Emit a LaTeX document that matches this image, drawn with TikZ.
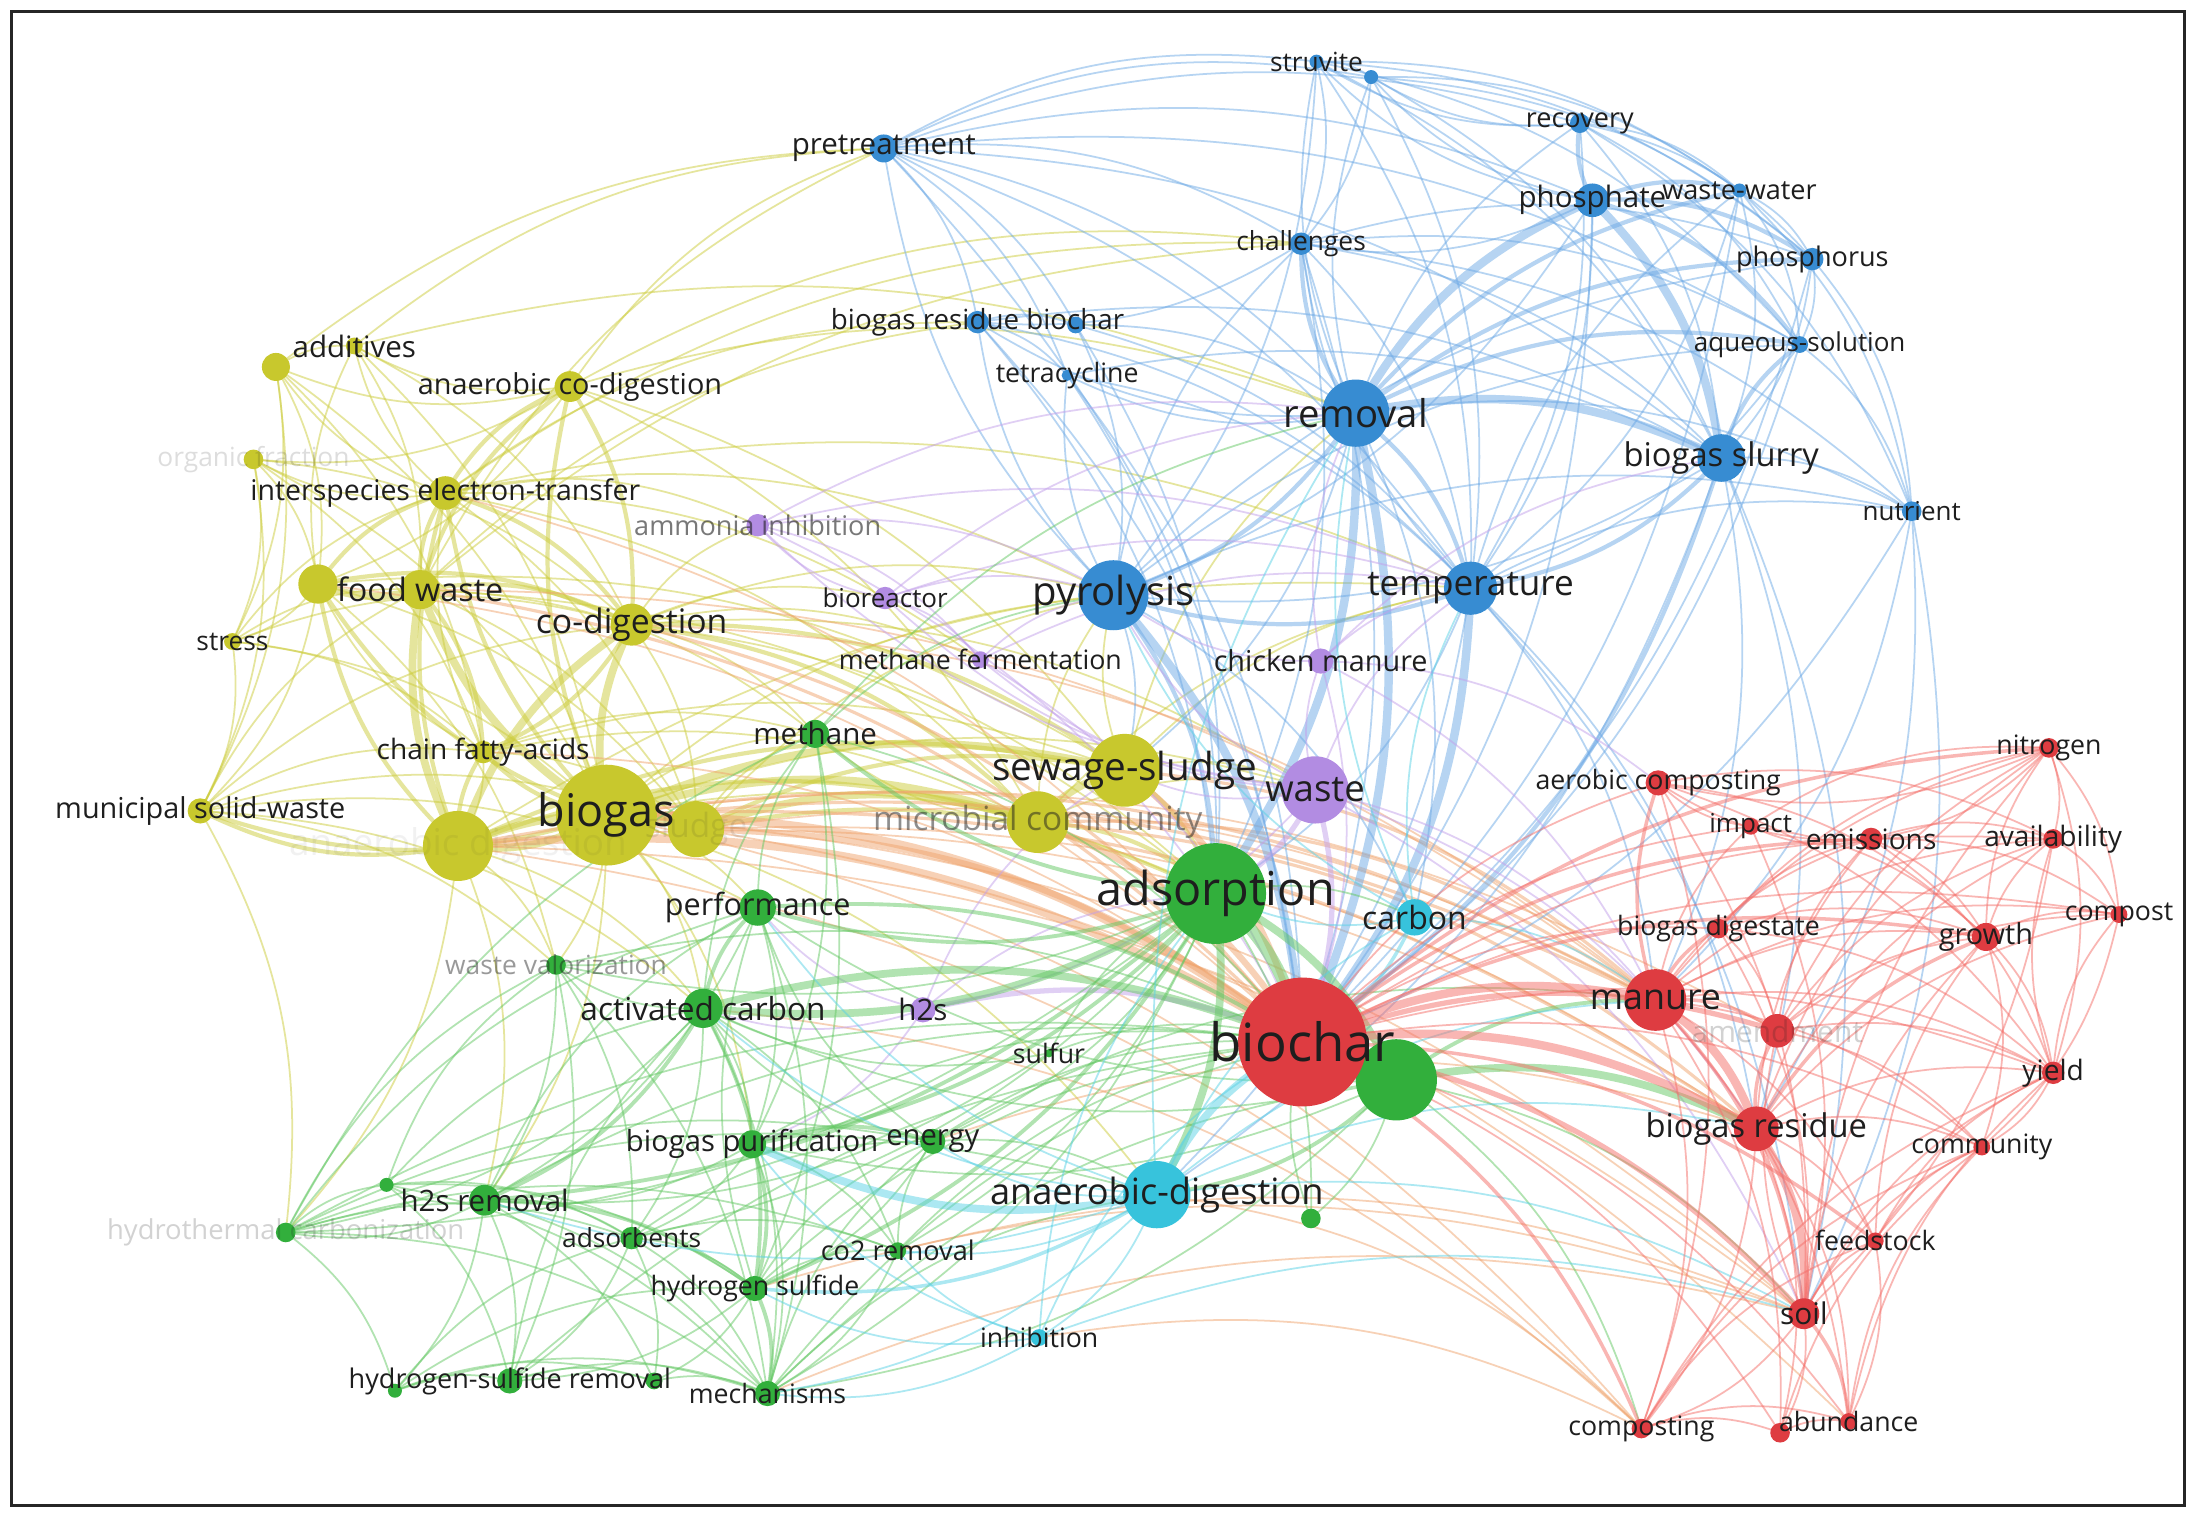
\documentclass[tikz,border=0pt]{standalone}
\usepackage{fontspec}
\setmainfont{Open Sans}
\usetikzlibrary{backgrounds}
\pgfdeclarelayer{edges}
\pgfdeclarelayer{labels}
\pgfsetlayers{edges,main,labels}
\definecolor{CY}{RGB}{200,200,45}
\definecolor{CB}{RGB}{55,140,210}
\definecolor{CG}{RGB}{50,175,60}
\definecolor{CR}{RGB}{222,60,65}
\definecolor{CP}{RGB}{178,140,226}
\definecolor{CC}{RGB}{55,195,220}
\definecolor{EY}{RGB}{205,205,60}
\definecolor{EB}{RGB}{110,170,230}
\definecolor{EG}{RGB}{100,200,100}
\definecolor{ER}{RGB}{245,110,105}
\definecolor{EP}{RGB}{195,160,235}
\definecolor{EC}{RGB}{90,210,230}
\definecolor{EO}{RGB}{240,165,110}
\definecolor{TX}{RGB}{30,30,30}
\tikzset{
 kwn/.style={circle, draw=none, inner sep=0pt},
 kwl/.style={inner sep=0pt, anchor=center, text=TX},
 ey/.style={draw=EY, draw opacity=0.5, line width=0.5pt},
 eb/.style={draw=EB, draw opacity=0.5, line width=0.5pt},
 eg/.style={draw=EG, draw opacity=0.5, line width=0.5pt},
 er/.style={draw=ER, draw opacity=0.5, line width=0.5pt},
 ep/.style={draw=EP, draw opacity=0.5, line width=0.5pt},
 ec/.style={draw=EC, draw opacity=0.5, line width=0.5pt},
 eo/.style={draw=EO, draw opacity=0.5, line width=0.5pt},
}
% name, x, y, r, colour, label, size, text opacity
\newcommand\kw[8]{%
 \node[kwn, fill=#5, minimum size=#4*0.02801cm] (#1) at (#2,#3) {};
 \begin{pgfonlayer}{labels}
 \node[kwl, text opacity=#8, font=\fontsize{#7}{#7}\selectfont] (#1-l) at (#1.center) {#6};
 \end{pgfonlayer}}
\newcommand\kwu[5]{%
 \node[kwn, fill=#5, minimum size=#4*0.02801cm] (#1) at (#2,#3) {};}
\newcommand\edges[2]{%
 \begin{pgfonlayer}{edges}
 \foreach \a/\b in {#2} \draw[#1] (\a.center) to[bend left=18] (\b.center);
 \end{pgfonlayer}}
\begin{document}
\begin{tikzpicture}[x=0.014005cm, y=-0.014005cm]
\useasboundingbox (0,0) rectangle (1568,1081);
\begin{pgfonlayer}{edges}
\fill[white] (0,0) rectangle (1568,1081);
\end{pgfonlayer}
% ---------- yellow
\kw{add}{253}{247}{6}{CY}{additives}{8.4}{1}
\kwu{add2}{197}{262}{10}{CY}
\kw{acd}{407}{276}{11}{CY}{anaerobic co-digestion}{8.2}{1}
\kw{orgf}{181}{328}{7}{CY}{organic fraction}{7.5}{0.15}
\kw{iet}{318}{352}{12}{CY}{interspecies electron-transfer}{8.1}{1}
\kw{fw}{300}{421}{14}{CY}{food waste}{9.2}{1}
\kwu{fw2}{227}{417}{14}{CY}
\kw{stress}{166}{458}{6}{CY}{stress}{7.5}{1}
\kw{codig}{451}{446}{15}{CY}{co-digestion}{9.6}{1}
\kw{cfa}{345}{537}{8}{CY}{chain fatty-acids}{8}{1}
\kw{msw}{143}{579}{9}{CY}{municipal solid-waste}{8.2}{1}
\kw{ad}{327}{604}{25}{CY}{anaerobic digestion}{10.5}{0.06}
\kw{sludge}{497}{592}{20}{CY}{sludge}{9.5}{0.1}
\kw{biogas}{433}{582}{36}{CY}{biogas}{12.8}{1}
\kw{micro}{741}{587}{22}{CY}{microbial community}{9.5}{0.5}
\kw{sewage}{803}{550}{26}{CY}{sewage-sludge}{11}{1}
% ---------- blue
\kw{struv}{940}{44}{5}{CB}{struvite}{7.5}{1}
\kwu{bl2}{979}{55}{5}{CB}
\kw{pretr}{631}{106}{10}{CB}{pretreatment}{8.4}{1}
\kw{recov}{1128}{88}{7}{CB}{recovery}{7.7}{1}
\kw{phosph}{1137}{143}{12}{CB}{phosphate}{8.4}{1}
\kw{ww}{1242}{136}{5}{CB}{waste-water}{7.7}{1}
\kw{chall}{929}{174}{8}{CB}{challenges}{7.5}{1}
\kw{phosphor}{1294}{185}{8}{CB}{phosphorus}{7.7}{1}
\kw{brb}{698}{230}{8}{CB}{biogas residue biochar}{7.9}{1}
\kwu{bl3}{768}{232}{6}{CB}
\kw{tetra}{762}{268}{4}{CB}{tetracycline}{7.6}{1}
\kw{removal}{968}{295}{24}{CB}{removal}{10.9}{1}
\kw{aqs}{1285}{246}{6}{CB}{aqueous-solution}{7.4}{1}
\kw{slurry}{1229}{327}{17}{CB}{biogas slurry}{9.3}{1}
\kw{nutr}{1365}{365}{7}{CB}{nutrient}{7.4}{1}
\kw{pyro}{795}{425}{25}{CB}{pyrolysis}{11.4}{1}
\kw{temp}{1050}{420}{19}{CB}{temperature}{10}{1}
% ---------- purple
\kw{ammon}{541}{375}{8}{CP}{ammonia inhibition}{7.7}{0.6}
\kw{biore}{632}{427}{8}{CP}{bioreactor}{7.4}{1}
\kw{mferm}{700}{471}{6}{CP}{methane fermentation}{7.6}{1}
\kw{chick}{943}{472}{9}{CP}{chicken manure}{8.2}{1}
\kw{waste}{939}{564}{24}{CP}{waste}{10.4}{1}
\kw{htwos}{659}{721}{9}{CP}{h2s}{8.4}{1}
% ---------- green
\kw{methane}{582}{524}{10}{CG}{methane}{8.4}{1}
\kw{perf}{541}{648}{13}{CG}{performance}{8.7}{1}
\kw{wval}{397}{689}{7}{CG}{waste valorization}{7.5}{0.45}
\kw{actc}{502}{720}{14}{CG}{activated carbon}{9}{1}
\kw{adsorp}{868}{638}{36}{CG}{adsorption}{13.3}{1}
\kwu{gbig}{997}{771}{29}{CG}
\kw{bpur}{537}{817}{10}{CG}{biogas purification}{8.3}{1}
\kw{energy}{666}{815}{9}{CG}{energy}{8.3}{1}
\kw{htsr}{346}{857}{11}{CG}{h2s removal}{8.4}{1}
\kwu{g2}{276}{846}{5}{CG}
\kw{htc}{204}{880}{7}{CG}{hydrothermal carbonization}{7.8}{0.2}
\kw{adsb}{451}{884}{8}{CG}{adsorbents}{7.5}{1}
\kw{co2r}{641}{893}{6}{CG}{co2 removal}{7.7}{1}
\kw{hsulf}{539}{920}{9}{CG}{hydrogen sulfide}{7.6}{1}
\kwu{hsr1}{282}{993}{5}{CG}
\kw{hsr}{364}{986}{9}{CG}{hydrogen-sulfide removal}{7.7}{1}
\kwu{hsr3}{467}{986}{6}{CG}
\kw{mech}{548}{995}{9}{CG}{mechanisms}{7.6}{1}
\kwu{g3}{936}{870}{7}{CG}
\kw{sulfur}{749}{752}{3}{CG}{sulfur}{7.6}{1}
% ---------- cyan
\kw{anad}{826}{853}{24}{CC}{anaerobic-digestion}{10.3}{1}
\kw{carbon}{1010}{655}{13}{CC}{carbon}{9.1}{1}
\kw{inhib}{742}{955}{6}{CC}{inhibition}{7.6}{1}
% ---------- red
\kw{aercomp}{1184}{559}{9}{CR}{aerobic composting}{7.6}{1}
\kw{nitro}{1463}{534}{7}{CR}{nitrogen}{7.6}{1}
\kw{impact}{1250}{590}{6}{CR}{impact}{7.4}{1}
\kw{emis}{1336}{599}{8}{CR}{emissions}{8}{1}
\kw{avail}{1466}{599}{7}{CR}{availability}{8}{1}
\kw{compost}{1513}{653}{6}{CR}{compost}{7.6}{1}
\kw{bdig}{1227}{663}{7}{CR}{biogas digestate}{7.6}{1}
\kw{growth}{1418}{669}{10}{CR}{growth}{8.2}{1}
\kw{manure}{1182}{714}{22}{CR}{manure}{10.2}{1}
\kw{amend}{1269}{736}{12}{CR}{amendment}{8.5}{0.2}
\kw{yield}{1466}{766}{8}{CR}{yield}{8}{1}
\kw{bres}{1254}{806}{16}{CR}{biogas residue}{9.3}{1}
\kw{commun}{1415}{819}{6}{CR}{community}{7.6}{1}
\kw{feed}{1339}{886}{6}{CR}{feedstock}{7.6}{1}
\kw{soil}{1288}{938}{11}{CR}{soil}{8.5}{1}
\kw{compo}{1172}{1020}{7}{CR}{composting}{7.6}{1}
\kw{abund}{1320}{1015}{6}{CR}{abundance}{7.6}{1}
\kwu{r2}{1271}{1023}{7}{CR}
\kw{biochar}{930}{744}{46}{CR}{biochar}{15}{1}
% ================= edges
% yellow
\edges{ey, line width=2.2pt}{biogas/ad, biogas/sludge, biogas/micro, biogas/sewage, biogas/codig, biogas/fw, ad/fw, ad/sludge, ad/codig, sludge/micro, micro/sewage, fw/fw2}
\edges{ey, line width=1.2pt}{biogas/fw2, biogas/cfa, biogas/iet, ad/fw2, ad/iet, ad/cfa, ad/sewage, ad/micro, fw/iet, fw/codig, fw/cfa, fw2/iet, fw2/codig, iet/acd, iet/codig, codig/sewage, codig/micro, sludge/sewage, codig/cfa, biogas/msw, ad/msw, acd/codig, biogas/acd, fw/acd, sludge/adsorp, micro/adsorp, sewage/adsorp}
\edges{ey}{fw2/stress, fw2/msw, fw2/add, iet/add, iet/add2, iet/orgf, acd/add, acd/add2, acd/orgf, add2/fw2, add2/msw, add2/add, orgf/fw2, stress/iet, stress/msw, stress/fw, msw/fw, msw/codig, msw/cfa, cfa/iet, cfa/fw2, sewage/pyro, biogas/methane, biogas/perf, biogas/actc, biogas/wval, ad/wval, ad/htc, msw/htc, biogas/htsr, codig/methane, acd/pretr, fw/pretr, iet/ammon, codig/ammon, biogas/anad, ad/temp, acd/removal, add/removal, iet/pyro, codig/pyro, fw/chall, add2/stress, orgf/stress, orgf/msw, acd/fw2, iet/sludge, codig/sludge, cfa/sludge, add/codig, add/fw, stress/codig, sewage/removal, micro/pyro, micro/methane, sludge/methane, biogas/bpur, biogas/adsorp, codig/adsorp, fw/adsorp, msw/actc, ad/actc, ad/htsr, fw2/wval, iet/temp, acd/sewage, codig/waste, micro/waste, sewage/waste, biogas/waste, acd/chall, iet/chall, iet/brb, fw/brb, add/pretr, add2/pretr, codig/biore, fw/methane, cfa/methane, iet/mferm, codig/mferm, msw/perf, msw/wval, stress/cfa, add2/cfa, orgf/codig, orgf/cfa, orgf/biogas, add/biogas, add2/biogas, stress/biogas, cfa/micro, cfa/sewage, fw2/sewage, iet/micro, acd/micro, sludge/pyro, micro/temp, sewage/temp, biogas/pyro, fw/sludge, fw2/sludge, msw/sludge, cfa/ad}
% orange (mixed)
\edges{eo, line width=2.4pt}{biogas/biochar, ad/biochar}
\edges{eo, line width=1.8pt}{sludge/biochar, micro/biochar, sewage/biochar}
\edges{eo, line width=0.9pt}{codig/biochar, fw/biochar, biogas/manure, ad/manure, biogas/bres, sewage/manure, micro/bres, micro/manure}
\edges{eo}{ad/bres, biogas/soil, codig/manure, fw/manure, biogas/compo, sludge/bres, biogas/amend, ad/soil, actc/compo, biogas/abund, mech/soil, inhib/compo, hsulf/soil, anad/compo, energy/bres, iet/biochar, cfa/biochar, fw2/biochar, sludge/manure, ad/compo, co2r/soil}
% blue
\edges{eb, line width=2.4pt}{removal/phosph, removal/slurry, removal/biochar, removal/adsorp, pyro/biochar, phosph/slurry, temp/biochar}
\edges{eb, line width=1.2pt}{removal/pyro, removal/temp, phosph/recov, phosph/ww, phosph/phosphor, slurry/temp, temp/pyro, pyro/adsorp, removal/aqs, removal/chall, phosph/aqs, slurry/aqs, slurry/biochar, removal/phosphor, removal/ww}
\edges{eb}{removal/tetra, removal/brb, removal/recov, removal/struv, removal/bl2, removal/nutr, phosph/struv, phosph/bl2, phosph/chall, phosph/pyro, phosph/temp, recov/struv, recov/bl2, recov/ww, recov/phosphor, ww/phosphor, ww/aqs, ww/slurry, phosphor/aqs, phosphor/slurry, phosphor/nutr, aqs/temp, slurry/nutr, slurry/pyro, slurry/manure, slurry/bres, nutr/biochar, temp/adsorp, temp/chall, pyro/brb, pyro/tetra, pyro/chall, pyro/pretr, pyro/sewage, pretr/struv, pretr/chall, pretr/brb, pretr/tetra, pretr/bl3, struv/bl2, struv/chall, struv/ww, struv/temp, bl2/chall, bl2/slurry, chall/brb, chall/temp, chall/slurry, brb/tetra, brb/bl3, brb/adsorp, tetra/adsorp, tetra/biochar, bl3/adsorp, chall/biochar, nutr/manure, nutr/bres, aqs/biochar, phosphor/biochar, ww/biochar, phosph/biochar, struv/pyro, bl3/pyro, pretr/removal, pretr/biochar, recov/slurry, recov/temp, bl2/phosphor, nutr/soil, temp/manure, temp/bres, temp/soil, slurry/soil, aqs/nutr, bl3/removal, brb/biochar, pretr/temp, struv/aqs, chall/adsorp, removal/carbon, slurry/anad, temp/anad, pretr/recov, pretr/phosph, pretr/slurry, pretr/bl2, struv/phosphor, struv/slurry, bl2/ww, bl2/temp, chall/phosphor, chall/aqs, chall/nutr, recov/aqs, recov/nutr, ww/nutr, ww/temp, brb/slurry, brb/temp, tetra/temp, tetra/slurry, pyro/aqs, pyro/nutr, pyro/phosphor, temp/nutr, temp/ww, removal/sewage, pyro/carbon, bl3/temp, pretr/aqs}
% purple
\edges{ep, line width=1.5pt}{waste/biochar, waste/adsorp, htwos/biochar}
\edges{ep}{waste/pyro, waste/chick, waste/mferm, waste/biore, waste/ammon, waste/htwos, chick/pyro, chick/temp, chick/biochar, chick/removal, biore/pyro, biore/ammon, biore/mferm, ammon/pyro, ammon/mferm, ammon/biochar, mferm/pyro, htwos/adsorp, htwos/actc, htwos/sewage, waste/manure, waste/sewage, mferm/biochar, chick/slurry, waste/bres, waste/soil, ammon/temp, biore/temp, htwos/perf, htwos/bpur, waste/temp, chick/manure, ammon/removal, biore/removal, mferm/temp, chick/aercomp}
% green
\edges{eg, line width=3.5pt}{adsorp/biochar}
\edges{eg, line width=2.2pt}{adsorp/gbig, adsorp/actc, adsorp/anad, gbig/biochar, actc/biochar, gbig/bres}
\edges{eg, line width=1.1pt}{adsorp/perf, adsorp/methane, adsorp/hsulf, adsorp/htsr, adsorp/bpur, gbig/manure, gbig/anad, actc/perf, actc/htsr, actc/hsulf, bpur/hsulf, bpur/energy, htsr/hsulf, hsulf/mech, perf/biochar}
\edges{eg}{adsorp/energy, adsorp/mech, adsorp/adsb, adsorp/co2r, adsorp/carbon, adsorp/wval, adsorp/htc, adsorp/g3, gbig/actc, gbig/perf, gbig/g3, gbig/soil, actc/bpur, actc/adsb, actc/mech, actc/co2r, actc/methane, actc/wval, actc/htc, perf/methane, perf/bpur, perf/wval, methane/biochar, bpur/htsr, bpur/adsb, bpur/co2r, bpur/mech, bpur/biochar, energy/biochar, energy/anad, energy/hsulf, htsr/adsb, htsr/hsr, htsr/htc, htsr/g2, htsr/mech, htsr/hsr1, htsr/hsr3, htc/g2, htc/hsr1, htc/mech, htc/wval, htc/adsb, g2/adsb, g2/hsr, adsb/hsulf, adsb/mech, adsb/hsr, adsb/hsr3, hsulf/co2r, hsulf/hsr, hsulf/hsr3, hsr/mech, hsr1/mech, hsr3/mech, hsr1/hsr, hsr/hsr3, co2r/mech, mech/biochar, mech/anad, hsulf/biochar, wval/biochar, wval/htsr, wval/hsr, g3/biochar, htsr/biochar, sulfur/biochar, sulfur/adsorp, sulfur/actc, sulfur/htsr, methane/removal, methane/pyro, g2/wval, htc/perf, hsr/biochar, mech/gbig, co2r/biochar, energy/manure, gbig/compo, htsr/perf, hsr/actc, hsr1/adsb, g2/actc, htc/methane, hsulf/perf, energy/perf, energy/actc, htc/energy, htc/co2r, g2/mech, hsr1/hsr3, hsr1/hsulf, g2/hsulf, adsb/co2r, adsb/energy, methane/bpur, methane/hsulf, wval/mech, wval/adsb, perf/htsr, perf/mech, hsulf/energy, co2r/energy, mech/energy, gbig/bpur, gbig/mech, htc/biochar, htc/anad}
% cyan
\edges{ec, line width=2.2pt}{anad/biochar, anad/bpur}
\edges{ec, line width=1pt}{anad/hsulf, carbon/biochar}
\edges{ec}{anad/inhib, anad/carbon, anad/energy, anad/mech, anad/co2r, anad/actc, anad/manure, anad/bres, anad/soil, carbon/adsorp, carbon/removal, carbon/temp, carbon/manure, inhib/biochar, inhib/mech, inhib/hsulf, inhib/adsorp, carbon/pyro, anad/htsr, anad/removal, inhib/soil, anad/perf, inhib/co2r, inhib/bpur}
% red
\edges{er, line width=2.4pt}{biochar/manure, biochar/bres, manure/bres, bres/soil}
\edges{er, line width=1.5pt}{biochar/soil, biochar/amend}
\edges{er, line width=1pt}{manure/soil, manure/amend, bres/amend, biochar/compo, biochar/growth, manure/aercomp, biochar/nitro, bres/growth, biochar/emis, manure/bdig, soil/abund, biochar/feed}
\edges{er}{biochar/abund, biochar/r2, biochar/yield, biochar/aercomp, biochar/impact, biochar/bdig, biochar/avail, biochar/compost, biochar/commun, manure/emis, manure/nitro, manure/growth, manure/compo, manure/avail, manure/feed, manure/impact, bres/yield, bres/commun, bres/feed, bres/compo, bres/abund, bres/r2, bres/nitro, bres/emis, soil/r2, soil/compo, soil/feed, soil/commun, soil/growth, soil/amend, amend/growth, amend/yield, amend/nitro, amend/avail, amend/emis, growth/yield, growth/compost, growth/nitro, growth/avail, growth/commun, yield/compost, yield/commun, yield/avail, nitro/avail, nitro/compost, nitro/emis, nitro/aercomp, emis/aercomp, emis/impact, emis/avail, impact/aercomp, aercomp/compo, bdig/growth, bdig/soil, compo/abund, compo/r2, r2/abund, compost/commun, avail/compost, feed/commun, feed/abund, manure/yield, compo/feed, bdig/emis, impact/soil, aercomp/soil, nitro/yield, avail/soil, aercomp/growth, aercomp/avail, aercomp/yield, impact/nitro, impact/growth, bdig/yield, bdig/nitro, bdig/amend, emis/growth, emis/compost, emis/yield, feed/yield, feed/growth, abund/commun, abund/yield, compo/commun, compo/yield, r2/commun, soil/yield, soil/nitro, manure/compost, manure/commun, manure/abund, manure/r2, bres/compost, bres/avail, amend/commun, amend/compost}
% frame
\begin{pgfonlayer}{labels}
\draw[line width=0.9pt, black!85] (8,8) rectangle (1560,1075);
\end{pgfonlayer}
\end{tikzpicture}
\end{document}
